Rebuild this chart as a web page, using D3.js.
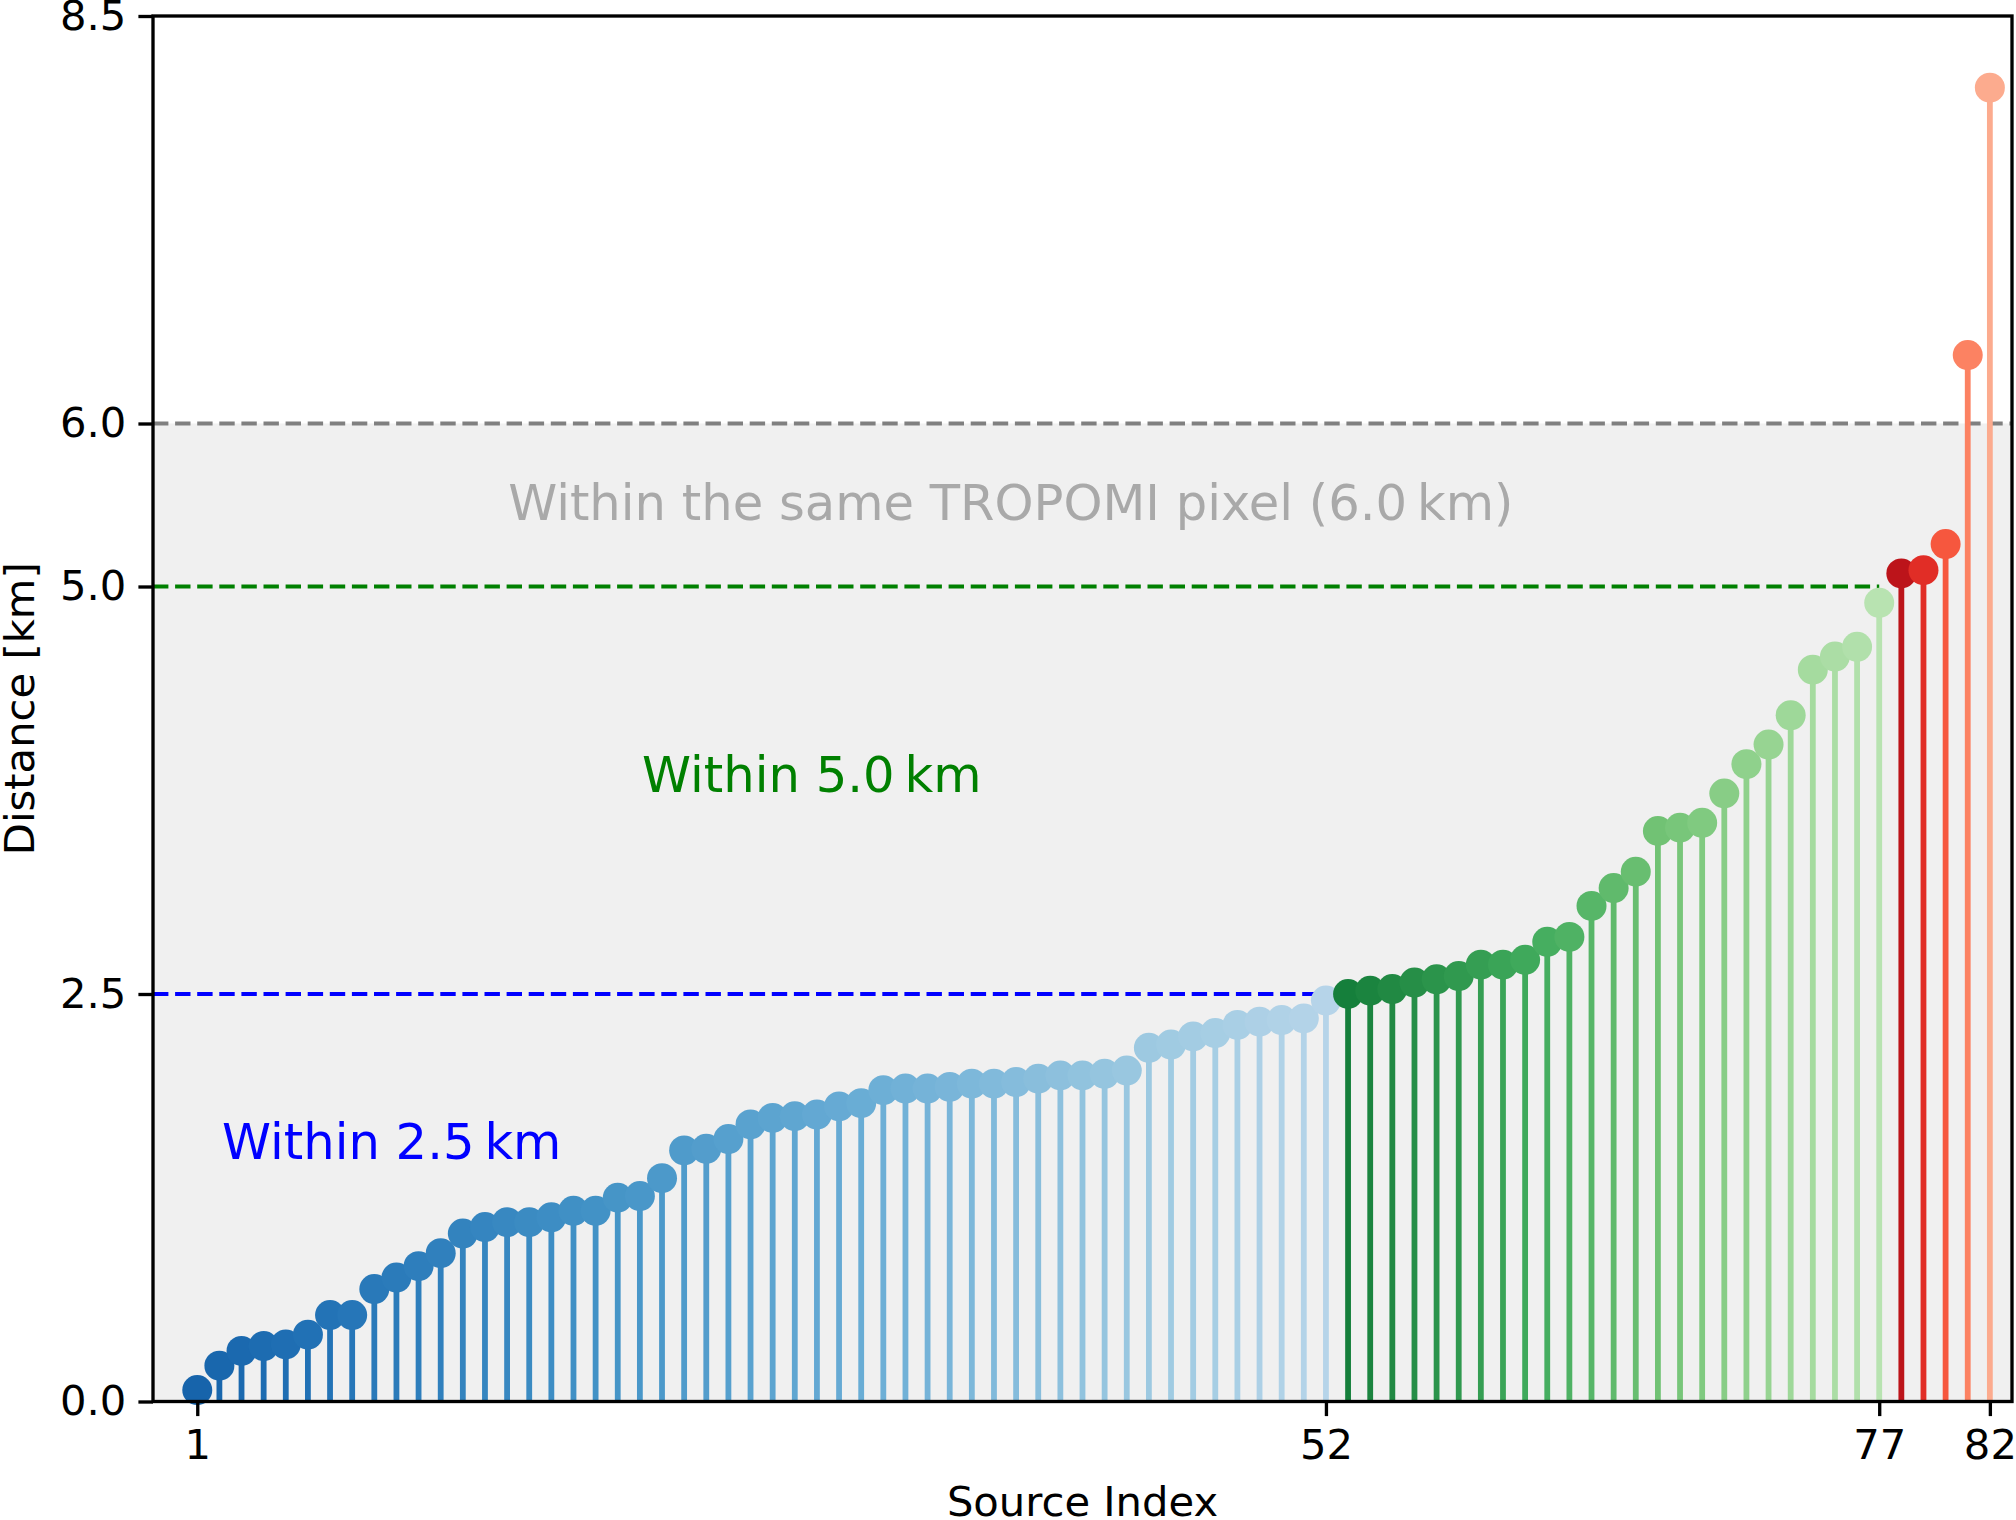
<!DOCTYPE html>
<html>
<head>
<meta charset="utf-8">
<script src="https://cdn.jsdelivr.net/npm/d3@7"></script>
<style>
  body { margin: 0; background: #fff; }
  svg { display: block; font-family: "DejaVu Sans", sans-serif; }
</style>
</head>
<body>
<div id="chart"></div>
<script>
// sorted source distances [km], split by group
const blueDist = [0.07, 0.22, 0.31, 0.34, 0.35, 0.41, 0.53, 0.53, 0.69, 0.76,
  0.83, 0.91, 1.03, 1.07, 1.10, 1.10, 1.13, 1.17, 1.17, 1.25,
  1.26, 1.37, 1.54, 1.55, 1.61, 1.70, 1.74, 1.75, 1.76, 1.81,
  1.83, 1.91, 1.92, 1.92, 1.93, 1.95, 1.95, 1.96, 1.98, 2.00,
  2.00, 2.01, 2.03, 2.17, 2.19, 2.24, 2.26, 2.31, 2.33, 2.34,
  2.35, 2.46];
const greenDist = [2.50, 2.52, 2.53, 2.57, 2.59, 2.61, 2.68, 2.68, 2.71, 2.82,
  2.85, 3.04, 3.15, 3.25, 3.50, 3.52, 3.55, 3.73, 3.91, 4.03,
  4.21, 4.49, 4.57, 4.63, 4.90];
const redDist = [5.08, 5.10, 5.26, 6.42, 8.06];

const xTicks = [1, 52, 77, 82];
const yTicks = [0, 2.5, 5.0, 6.0, 8.5];
const pixelSize = 6.0;   // TROPOMI pixel
const lim5 = 5.0, lim25 = 2.5;
const end25 = 52, end5 = 77; // last index inside each limit

// matplotlib colormaps (Blues / Greens / Reds)
const stops = [0, .125, .25, .375, .5, .625, .75, .875, 1];
const Blues = d3.scaleLinear().domain(stops)
  .range(["#f7fbff","#deebf7","#c6dbef","#9ecae1","#6baed6","#4292c6","#2171b5","#08519c","#08306b"]);
const Greens = d3.scaleLinear().domain(stops)
  .range(["#f7fcf5","#e5f5e0","#c7e9c0","#a1d99b","#74c476","#41ab5d","#238b45","#006d2c","#00441b"]);
const Reds = d3.scaleLinear().domain(stops)
  .range(["#fff5f0","#fee0d2","#fcbba1","#fc9272","#fb6a4a","#ef3b2c","#cb181d","#a50f15","#67000d"]);

function shade(cmap, n) {
  const t = d3.scaleLinear().domain([0, Math.max(n - 1, 1)]).range([0.8, 0.3]);
  return d3.range(n).map(i => cmap(t(i)));
}

const colors = [].concat(shade(Blues, blueDist.length), shade(Greens, greenDist.length), shade(Reds, redDist.length));
const data = [].concat(blueDist, greenDist, redDist).map((d, i) => ({idx: i + 1, dist: d, color: colors[i]}));

const W = 2016, H = 1520;
const margin = {top: 16, right: 4, bottom: 118.5, left: 153};

const svg = d3.select("#chart").append("svg")
  .attr("width", W)
  .attr("height", H);

const x = d3.scaleLinear().domain([-1, 83]).range([margin.left, W - margin.right]);
const y = d3.scaleLinear().domain([0, 8.5]).range([H - margin.bottom, margin.top]);

// shaded region below the pixel size
svg.append("rect")
  .attr("x", x(-1)).attr("y", y(pixelSize))
  .attr("width", x(83) - x(-1)).attr("height", y(0) - y(pixelSize))
  .attr("fill", "#f0f0f0");

const dash = "15.4,6.7";
svg.append("line")
  .attr("x1", x(-1)).attr("x2", x(83))
  .attr("y1", y(pixelSize)).attr("y2", y(pixelSize))
  .attr("stroke", "gray").attr("stroke-width", 4.17).attr("stroke-dasharray", dash);
svg.append("line")
  .attr("x1", x(-1)).attr("x2", x(end5))
  .attr("y1", y(lim5)).attr("y2", y(lim5))
  .attr("stroke", "green").attr("stroke-width", 4.17).attr("stroke-dasharray", dash);
svg.append("line")
  .attr("x1", x(-1)).attr("x2", x(end25))
  .attr("y1", y(lim25)).attr("y2", y(lim25))
  .attr("stroke", "blue").attr("stroke-width", 4.17).attr("stroke-dasharray", dash);

// annotations
const notes = [
  {text: "Within the same TROPOMI pixel (6.0\u2009km)", x: 15.05, y: 5.41, color: "#a9a9a9"},
  {text: "Within 5.0\u2009km", x: 21.1, y: 3.74, color: "green"},
  {text: "Within 2.5\u2009km", x: 2.12, y: 1.49, color: "blue"}
];
svg.selectAll(".note").data(notes).enter().append("text")
  .attr("class", "note")
  .attr("x", d => x(d.x)).attr("y", d => y(d.y))
  .attr("fill", d => d.color)
  .attr("font-size", 49.6)
  .text(d => d.text);

// stems
const g = svg.selectAll(".stem").data(data).enter().append("g").attr("class", "stem");
g.append("line")
  .attr("x1", d => x(d.idx)).attr("x2", d => x(d.idx))
  .attr("y1", y(0)).attr("y2", d => y(d.dist))
  .attr("stroke", d => d.color)
  .attr("stroke-width", 5.8);
g.append("circle")
  .attr("cx", d => x(d.idx)).attr("cy", d => y(d.dist))
  .attr("r", 15)
  .attr("fill", d => d.color);

// axes
const xAxis = d3.axisBottom(x).tickValues(xTicks).tickSize(14.6).tickPadding(13).tickFormat(d3.format("d"));
const yAxis = d3.axisLeft(y).tickValues(yTicks).tickSize(14.6).tickPadding(12).tickFormat(d3.format(".1f"));

const gx = svg.append("g").attr("transform", `translate(0,${H - margin.bottom})`).call(xAxis);
const gy = svg.append("g").attr("transform", `translate(${margin.left},0)`).call(yAxis);
[gx, gy].forEach(a => {
  a.select(".domain").remove();
  a.selectAll(".tick line").attr("stroke", "#000").attr("stroke-width", 3.33);
  a.selectAll(".tick text").attr("fill", "#000").attr("font-size", 41.7)
    .attr("font-family", "DejaVu Sans, sans-serif");
});

// spines
svg.append("rect")
  .attr("x", margin.left).attr("y", margin.top)
  .attr("width", W - margin.right - margin.left)
  .attr("height", H - margin.bottom - margin.top)
  .attr("fill", "none").attr("stroke", "#000").attr("stroke-width", 3.33);

svg.append("text")
  .attr("x", (x(-1) + x(83)) / 2).attr("y", 1516)
  .attr("text-anchor", "middle").attr("font-size", 41.7)
  .text("Source Index");

svg.append("text")
  .attr("transform", `translate(34,${(y(0) + y(8.5)) / 2}) rotate(-90)`)
  .attr("text-anchor", "middle").attr("font-size", 41.7)
  .text("Distance [km]");
</script>
</body>
</html>
